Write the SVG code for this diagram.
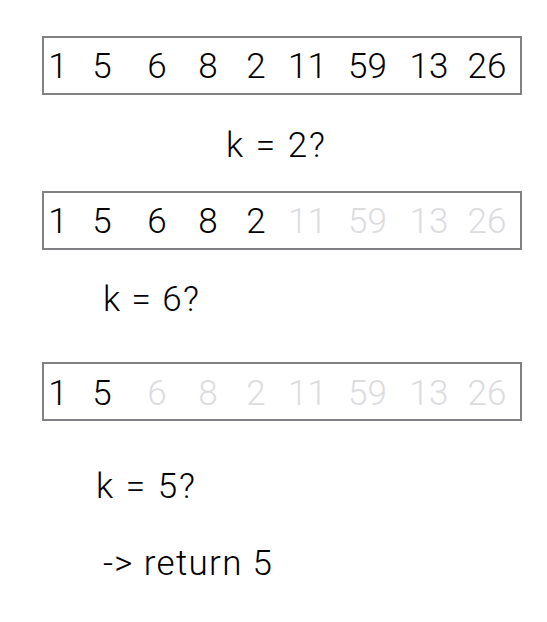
<svg xmlns="http://www.w3.org/2000/svg" width="547" height="622" viewBox="0 0 547 622">
<style>
.box{fill:#fff;stroke:#808184;stroke-width:2}
.t{font-family:Roboto,"Liberation Sans",sans-serif;font-weight:300;font-size:35px;fill:#000;font-variant-ligatures:none}
.n{text-anchor:middle}
.g{fill:#dcdcdf}
</style>
<rect width="547" height="622" fill="#fff"/>
<g id="array1">
<rect class="box" x="43" y="37" width="478" height="57"/>
<text class="t n" y="78"><tspan x="58">1</tspan><tspan x="102">5</tspan><tspan x="157">6</tspan><tspan x="208">8</tspan><tspan x="256">2</tspan><tspan x="307.5">11</tspan><tspan x="367.5">59</tspan><tspan x="429">13</tspan><tspan x="487">26</tspan></text>
</g>
<g id="label1"><text class="t" x="226" y="157" textLength="99">k = 2?</text></g>
<g id="array2">
<rect class="box" x="43" y="192" width="478" height="57"/>
<text class="t n" y="233"><tspan x="58">1</tspan><tspan x="102">5</tspan><tspan x="157">6</tspan><tspan x="208">8</tspan><tspan x="256">2</tspan><tspan class="g" x="307.5">11</tspan><tspan class="g" x="367.5">59</tspan><tspan class="g" x="429">13</tspan><tspan class="g" x="487">26</tspan></text>
</g>
<g id="label2"><text class="t" x="103" y="311" textLength="96">k = 6?</text></g>
<g id="array3">
<rect class="box" x="43" y="363" width="478" height="57"/>
<text class="t n" y="405"><tspan x="58">1</tspan><tspan x="102">5</tspan><tspan class="g" x="157">6</tspan><tspan class="g" x="208">8</tspan><tspan class="g" x="256">2</tspan><tspan class="g" x="307.5">11</tspan><tspan class="g" x="367.5">59</tspan><tspan class="g" x="429">13</tspan><tspan class="g" x="487">26</tspan></text>
</g>
<g id="label3"><text class="t" x="96" y="498" textLength="99">k = 5?</text></g>
<g id="result"><text class="t" x="103" y="575" textLength="169">-&gt; return 5</text></g>
<g id="connectors"/>
</svg>
